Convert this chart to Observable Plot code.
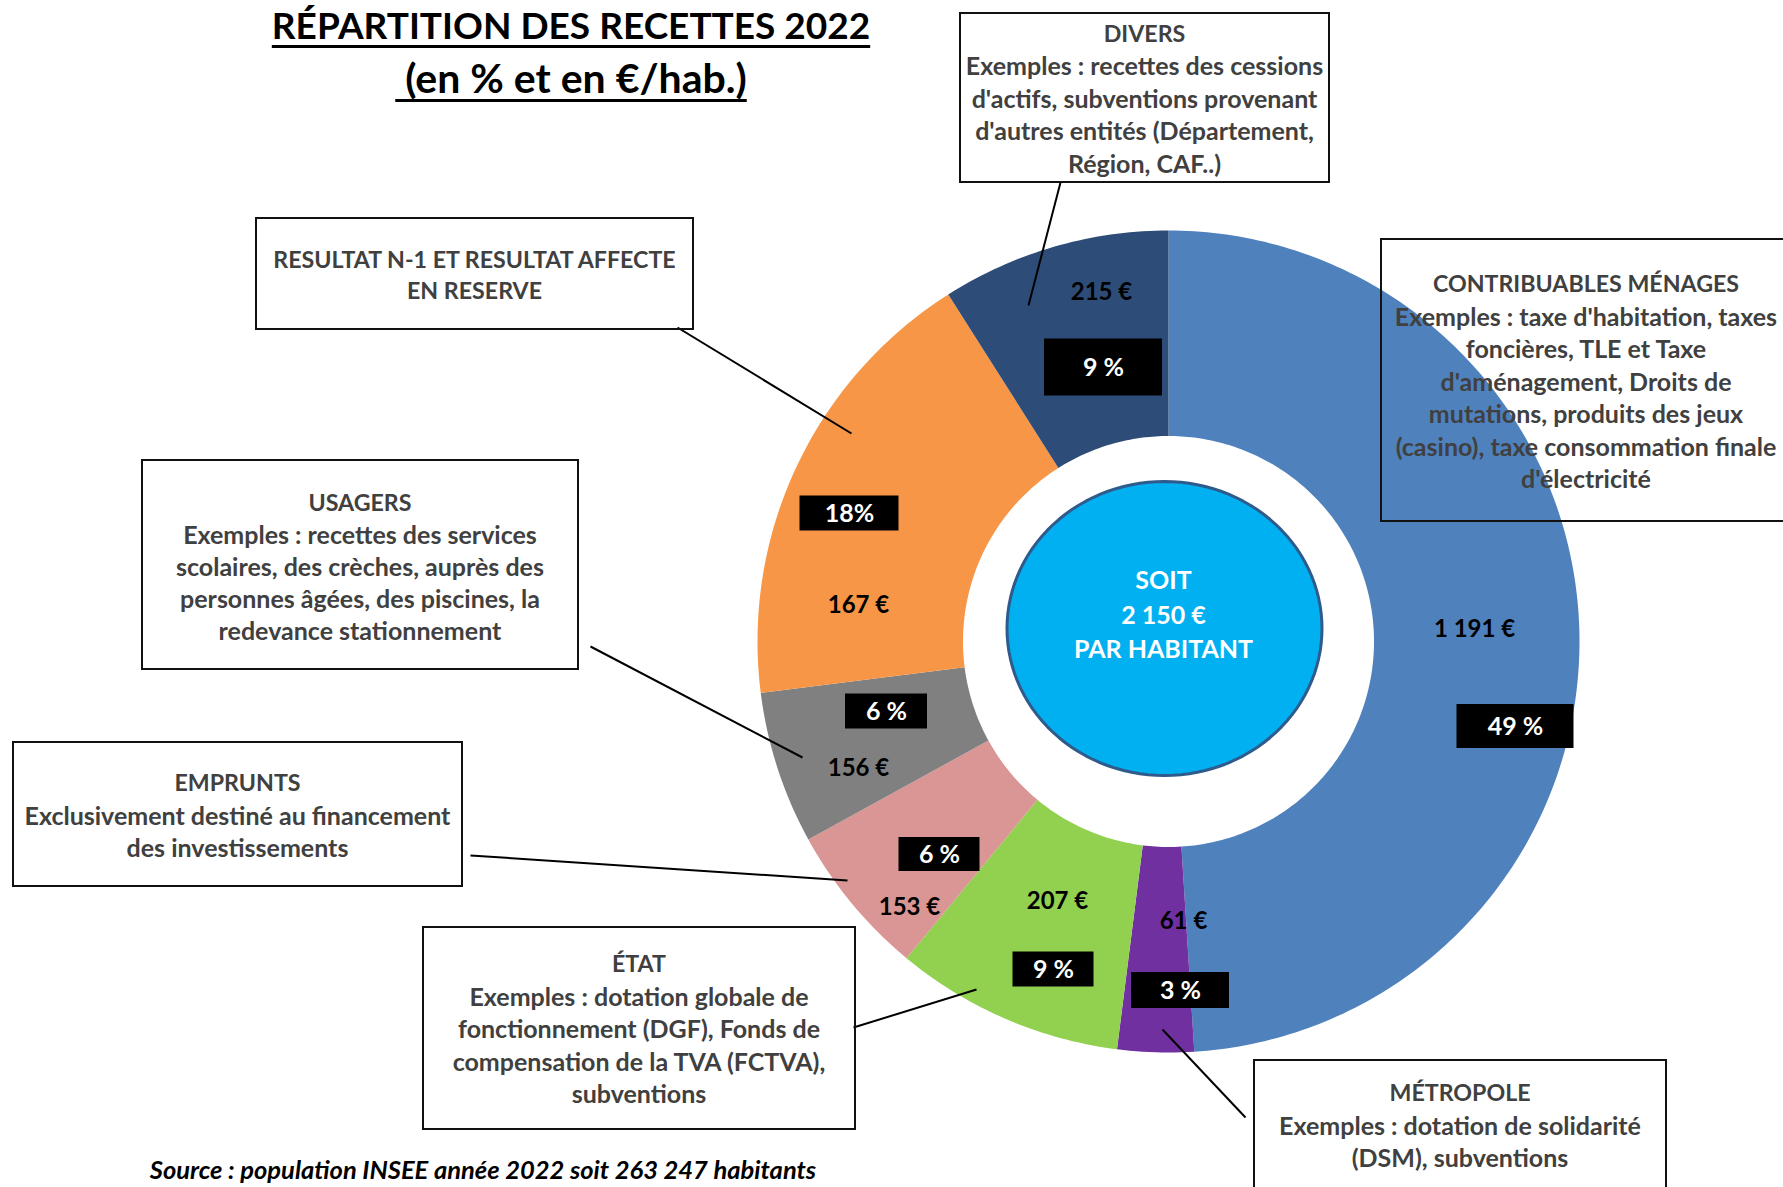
<!DOCTYPE html>
<html>
<head>
<meta charset="utf-8">
<script src="https://cdn.jsdelivr.net/npm/d3@7"></script>
<script src="https://cdn.jsdelivr.net/npm/@observablehq/plot@0.6"></script>
<style>
  html, body { margin: 0; padding: 0; background: #fff; }
  #wrap { position: relative; width: 1783px; height: 1187px; overflow: hidden; font-family: Lato, "Open Sans", sans-serif; }
  #wrap > svg { position: absolute; left: 0; top: 0; }
  .box { position: absolute; box-sizing: border-box; border: 2px solid #111; color: #404040; font-weight: 700;
         text-align: center; white-space: pre; background: transparent; }
  .title { position: absolute; width: 800px; text-align: center; font-weight: 700; color: #000; white-space: pre;
           text-decoration: underline; text-decoration-thickness: 3px; text-underline-offset: 6px; }
  .source { position: absolute; width: 900px; text-align: center; font-weight: 700; font-style: italic; color: #000; white-space: pre; }
</style>
</head>
<body>
<div id="wrap"></div>
<script>
// ---------- DATA ----------
const categories = ["CONTRIBUABLES MÉNAGES", "MÉTROPOLE", "ÉTAT", "EMPRUNTS", "USAGERS",
                    "RESULTAT N-1 ET RESULTAT AFFECTE EN RESERVE", "DIVERS"];
const shares = [49, 3, 9, 6, 6, 18, 9];                       // % of receipts
const perHabitant = [1191, 61, 207, 153, 156, 167, 215];       // €/hab.
const shareLabels = ["49 %", "3 %", "9 %", "6 %", "6 %", "18%", "9 %"];
const boxTexts = [
  "CONTRIBUABLES MÉNAGES\nExemples : taxe d'habitation, taxes\nfoncières, TLE et Taxe\nd'aménagement, Droits de\nmutations, produits des jeux\n(casino), taxe consommation finale\nd'électricité",
  "MÉTROPOLE\nExemples : dotation de solidarité\n(DSM), subventions",
  "ÉTAT\nExemples : dotation globale de\nfonctionnement (DGF), Fonds de\ncompensation de la TVA (FCTVA),\nsubventions",
  "EMPRUNTS\nExclusivement destiné au financement\ndes investissements",
  "USAGERS\nExemples : recettes des services\nscolaires, des crèches, auprès des\npersonnes âgées, des piscines, la\nredevance stationnement",
  "RESULTAT N-1 ET RESULTAT AFFECTE\nEN RESERVE",
  "DIVERS\nExemples : recettes des cessions\nd'actifs, subventions provenant\nd'autres entités (Département,\nRégion, CAF..)"
];
const titleLines = ["RÉPARTITION DES RECETTES 2022", " (en % et en €/hab.)"];
const centerLines = ["SOIT", "PAR HABITANT"];
const sourceText = "Source : population INSEE année 2022 soit 263 247 habitants";

// ---------- STYLE ----------
const sliceColors = ["#4F81BD", "#7030A0", "#92D050", "#D99694", "#808080", "#F79646", "#2D4D78"];

// ---------- LAYOUT (pixels) ----------
const W = 1783, H = 1187, CX = 1168, CY = 641, R = 411, INNER = 0.5;
const ux = px => (px - CX) / R;
const uy = py => (CY - py) / R;
const euroPos = [[1474, 629], [1183, 921], [1057, 901], [909, 907], [858, 768], [858, 605], [1101, 292]];
const pctBox = [[1515, 726, 117, 44], [1180, 990, 98, 36], [1053, 969, 81, 35], [939, 854, 81, 34],
                [886, 711, 82, 35], [849, 513, 99, 35], [1103, 367, 118, 57]];
// box: left, top, width, height, paddingTop, lineHeight
const boxLayout = [
  [1380, 238, 412, 284, 27, 32.5],
  [1253, 1059, 414, 160, 15, 32.5],
  [422, 926, 434, 204, 19, 32.5],
  [12, 741, 451, 146, 23, 32.5],
  [141, 459, 438, 211, 25, 32],
  [255, 217, 439, 113, 25, 31],
  [959, 12, 371, 171, 3, 32.4]
];
const leaders = [
  [1162, 1029, 1245, 1117],
  [853, 1027, 976, 989],
  [470, 855, 847, 880],
  [590, 646, 802, 757],
  [677, 327, 851, 433],
  [1060, 182, 1028, 305]
];
const ellipse = {cx: 1164, cy: 628, rx: 157.5, ry: 147};

// ---------- BUILD ----------
const total = d3.sum(shares);
const slices = categories.map((c, i) => ({key: c, share: shares[i], value: perHabitant[i], label: shareLabels[i], color: sliceColors[i], i}));

const ring = [];
let cum = 0;
for (const s of slices) {
  const a0 = cum / total * 2 * Math.PI;
  cum += s.share;
  const a1 = cum / total * 2 * Math.PI;
  const n = Math.max(6, Math.ceil(s.share * 4));
  for (let k = 0; k <= n; ++k) { const a = a0 + (a1 - a0) * k / n; ring.push({key: s.key, color: s.color, x: Math.sin(a), y: Math.cos(a)}); }
  for (let k = n; k >= 0; --k) { const a = a0 + (a1 - a0) * k / n; ring.push({key: s.key, color: s.color, x: INNER * Math.sin(a), y: INNER * Math.cos(a)}); }
}

const ell = d3.range(0, 121).map(k => {
  const t = k / 120 * 2 * Math.PI;
  return {x: ux(ellipse.cx) + ellipse.rx / R * Math.sin(t), y: uy(ellipse.cy) + ellipse.ry / R * Math.cos(t)};
});

const fmt = d3.formatLocale({decimal: ",", thousands: "\u00a0", grouping: [3], currency: ["", " €"]}).format(",d");
const totalPerHab = d3.sum(perHabitant);
const centerText = [centerLines[0], fmt(totalPerHab) + " €", centerLines[1]].join("\n");

const chart = Plot.plot({
  width: W, height: H,
  marginLeft: CX - R, marginRight: W - (CX + R), marginTop: CY - R, marginBottom: H - (CY + R),
  x: {domain: [-1, 1], axis: null},
  y: {domain: [-1, 1], axis: null},
  color: {type: "identity"},
  style: {fontFamily: "Lato, 'Open Sans', sans-serif", background: "transparent", overflow: "visible"},
  marks: [
    Plot.line(ring, {x: "x", y: "y", z: "key", fill: "color", stroke: "none"}),
    Plot.line(ell, {x: "x", y: "y", fill: "#00B0F0", stroke: "#2F5A8C", strokeWidth: 3}),
    Plot.text([centerText], {x: ux(1163), y: uy(612), text: d => d, fill: "white", fontSize: 25, fontWeight: "bold", lineHeight: 1.38}),
    Plot.link(leaders, {x1: d => ux(d[0]), y1: d => uy(d[1]), x2: d => ux(d[2]), y2: d => uy(d[3]), stroke: "black", strokeWidth: 2}),
    Plot.text(slices, {x: d => ux(euroPos[d.i][0]), y: d => uy(euroPos[d.i][1]), text: d => fmt(d.value) + " €",
                       fill: "black", fontSize: 24, fontWeight: "bold"}),
    Plot.rect(slices, {x1: d => ux(pctBox[d.i][0] - pctBox[d.i][2] / 2), x2: d => ux(pctBox[d.i][0] + pctBox[d.i][2] / 2),
                       y1: d => uy(pctBox[d.i][1] - pctBox[d.i][3] / 2), y2: d => uy(pctBox[d.i][1] + pctBox[d.i][3] / 2),
                       fill: "black"}),
    Plot.text(slices, {x: d => ux(pctBox[d.i][0]), y: d => uy(pctBox[d.i][1]), text: "label",
                       fill: "white", fontSize: 25, fontWeight: "bold"})
  ]
});

const wrap = document.getElementById("wrap");
wrap.appendChild(chart);

boxTexts.forEach((t, i) => {
  const [l, tp, w, h, pad, lh] = boxLayout[i];
  const div = document.createElement("div");
  div.className = "box";
  Object.assign(div.style, {left: l + "px", top: tp + "px", width: w + "px", height: h + "px",
    paddingTop: pad + "px", lineHeight: lh + "px"});
  for (const line of t.split("\n")) {
    const ld = document.createElement("div");
    const caps = line === line.toUpperCase();
    Object.assign(ld.style, {height: lh + "px", lineHeight: lh + "px", fontSize: (caps ? 23.2 : 25) + "px"});
    ld.textContent = line;
    div.appendChild(ld);
  }
  wrap.appendChild(div);
});

const titleSizes = [37, 41];
const titleCenters = [25, 78];
titleLines.forEach((t, i) => {
  const div = document.createElement("div");
  div.className = "title";
  Object.assign(div.style, {left: (571 - 400) + "px", top: (titleCenters[i] - 25) + "px", fontSize: titleSizes[i] + "px", lineHeight: "50px"});
  div.textContent = t;
  wrap.appendChild(div);
});

const src = document.createElement("div");
src.className = "source";
Object.assign(src.style, {left: (483 - 450) + "px", top: (1169 - 15) + "px", fontSize: "25.5px", lineHeight: "30px"});
src.textContent = sourceText;
wrap.appendChild(src);
</script>
</body>
</html>
